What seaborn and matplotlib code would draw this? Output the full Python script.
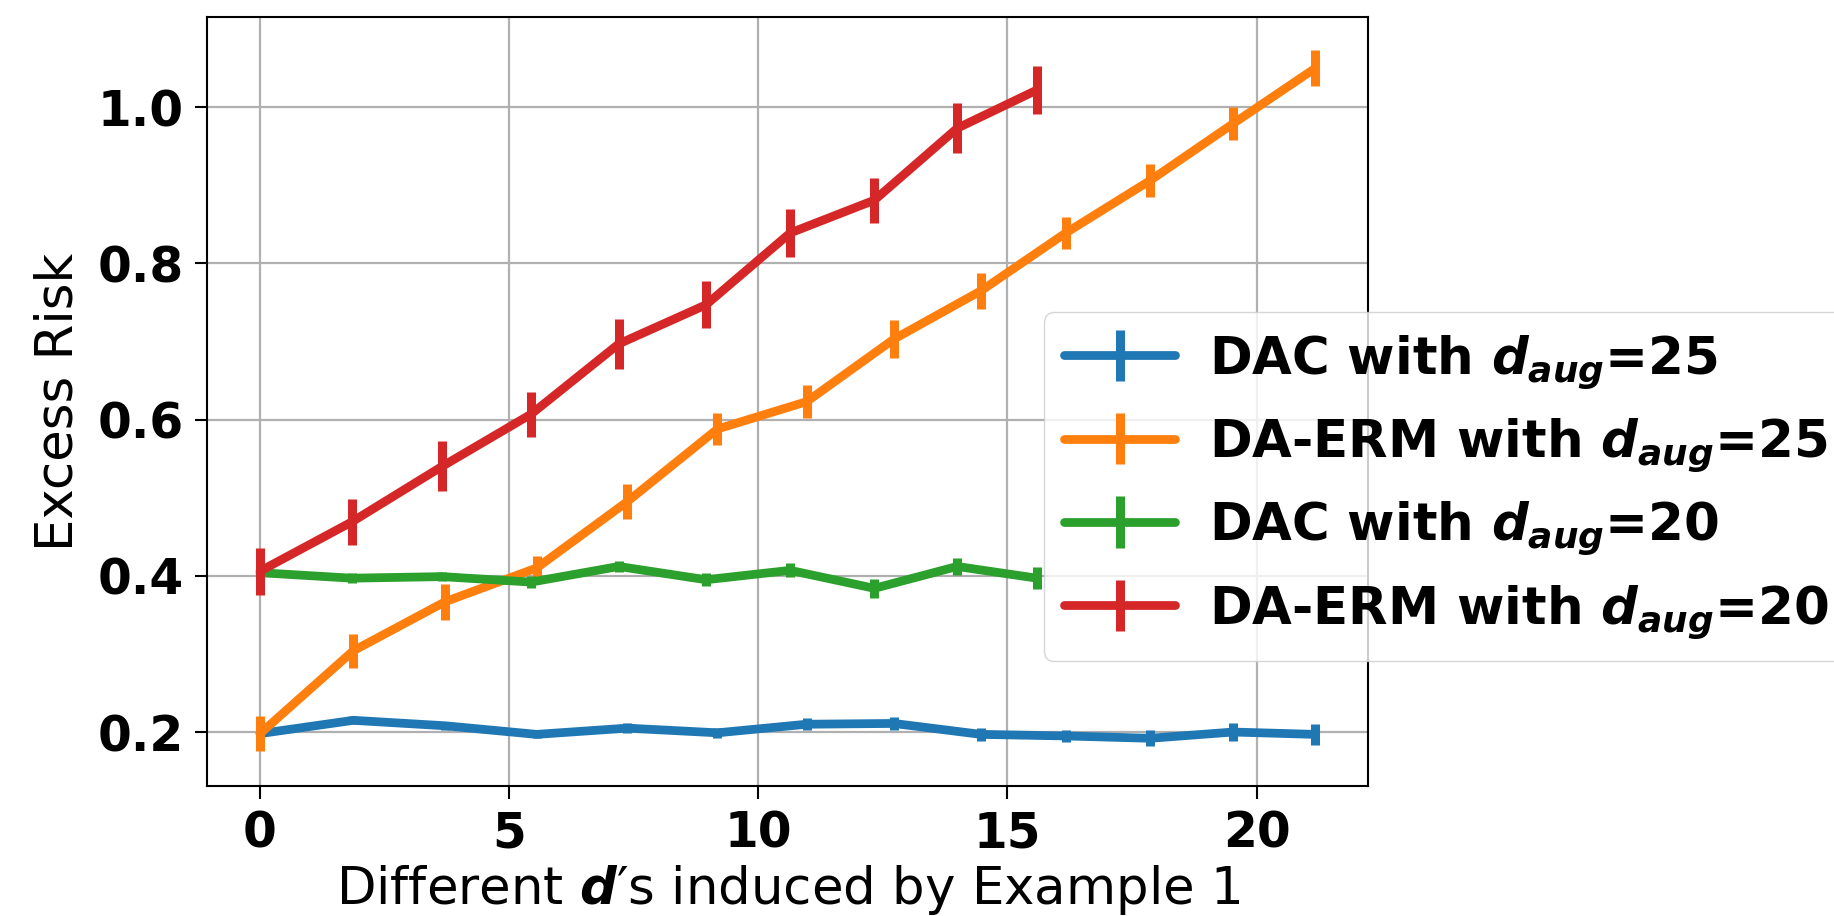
import matplotlib
matplotlib.use("Agg")
import matplotlib.pyplot as plt
import seaborn as sns
import numpy as np
from matplotlib.legend_handler import HandlerTuple

# ---- data ----
x_long = [0, 1.87, 3.72, 5.55, 7.37, 9.18, 10.97, 12.72, 14.47, 16.17, 17.86, 19.53, 21.18]
x_short = [0, 1.84, 3.65, 5.44, 7.20, 8.95, 10.64, 12.33, 13.99, 15.59]

dac25 = [0.198, 0.215, 0.208, 0.197, 0.205, 0.199, 0.210, 0.211, 0.197, 0.195, 0.192, 0.200, 0.197]
dac25_err = [0.006, 0.005, 0.005, 0.005, 0.006, 0.006, 0.0075, 0.008, 0.008, 0.008, 0.010, 0.012, 0.013]

erm25 = [0.198, 0.304, 0.367, 0.410, 0.495, 0.588, 0.623, 0.703, 0.765, 0.839, 0.906, 0.979, 1.050]
erm25_err = [0.022, 0.022, 0.023, 0.016, 0.022, 0.020, 0.021, 0.024, 0.023, 0.021, 0.021, 0.021, 0.023]

dac20 = [0.404, 0.397, 0.399, 0.392, 0.412, 0.395, 0.407, 0.384, 0.412, 0.397]
dac20_err = [0.006, 0.006, 0.006, 0.008, 0.007, 0.008, 0.009, 0.012, 0.011, 0.014]

erm20 = [0.406, 0.469, 0.540, 0.607, 0.697, 0.747, 0.839, 0.881, 0.973, 1.022]
erm20_err = [0.030, 0.029, 0.032, 0.029, 0.032, 0.030, 0.031, 0.029, 0.032, 0.031]

labels = [r"DAC with $d_{aug}$=25", r"DA-ERM with $d_{aug}$=25",
          r"DAC with $d_{aug}$=20", r"DA-ERM with $d_{aug}$=20"]
xticks = [0, 5, 10, 15, 20]
yticks = [0.2, 0.4, 0.6, 0.8, 1.0]

# ---- style ----
sns.set_theme(style="ticks")
plt.rcParams.update({
    "font.family": ["DejaVu Sans"],
    "mathtext.fontset": "custom",
    "mathtext.it": "DejaVu Sans:bold:italic",
    "mathtext.rm": "DejaVu Sans:bold",
    "mathtext.bf": "DejaVu Sans:bold",
    "axes.edgecolor": "black",
    "axes.linewidth": 1.5,
    "text.color": "black",
    "axes.labelcolor": "black",
    "xtick.color": "black",
    "ytick.color": "black",
})

colors = sns.color_palette("tab10", 4)

fig = plt.figure(figsize=(18.34, 9.16), dpi=100)
ax = fig.add_axes([0.113, 0.142, 0.633, 0.839])

series = [
    (x_long, dac25, dac25_err),
    (x_long, erm25, erm25_err),
    (x_short, dac20, dac20_err),
    (x_short, erm20, erm20_err),
]

handles = []
for (xs, ys, es), c, lab in zip(series, colors, labels):
    sns.lineplot(x=xs, y=ys, color=c, linewidth=6.3, ax=ax, legend=False,
                 estimator=None, sort=False)
    line = ax.lines[-1]
    eb = ax.errorbar(xs, ys, yerr=es, fmt="none", ecolor=c, elinewidth=6.5, capsize=0)
    handles.append((line, eb))

ax.set_xlim(-1.06, 22.24)
ax.set_ylim(0.131, 1.115)
ax.set_xticks(xticks)
ax.set_yticks(yticks)
ax.set_xticklabels([str(t) for t in xticks], fontsize=35, fontweight="bold")
ax.set_yticklabels([f"{t:.1f}" for t in yticks], fontsize=35, fontweight="bold")
ax.tick_params(axis="both", length=9, width=1.5, pad=8)
ax.grid(True, color="#b0b0b0", linewidth=1.6)
ax.set_axisbelow(True)

ax.set_xlabel("Different $d$\u2032s induced by Example 1", fontsize=37, labelpad=4)
ax.set_ylabel("Excess Risk", fontsize=37, labelpad=10)

leg = fig.legend(handles, labels, loc="upper left", bbox_to_anchor=(0.569, 0.659),
                 handler_map={tuple: HandlerTuple(ndivide=1)},
                 prop={"size": 37, "weight": "bold"}, frameon=True,
                 fancybox=True, framealpha=0.8, edgecolor="#cccccc",
                 handlelength=2.16, handletextpad=0.65, borderaxespad=0,
                 labelspacing=0.5)

fig.savefig("out.png", dpi=100)
